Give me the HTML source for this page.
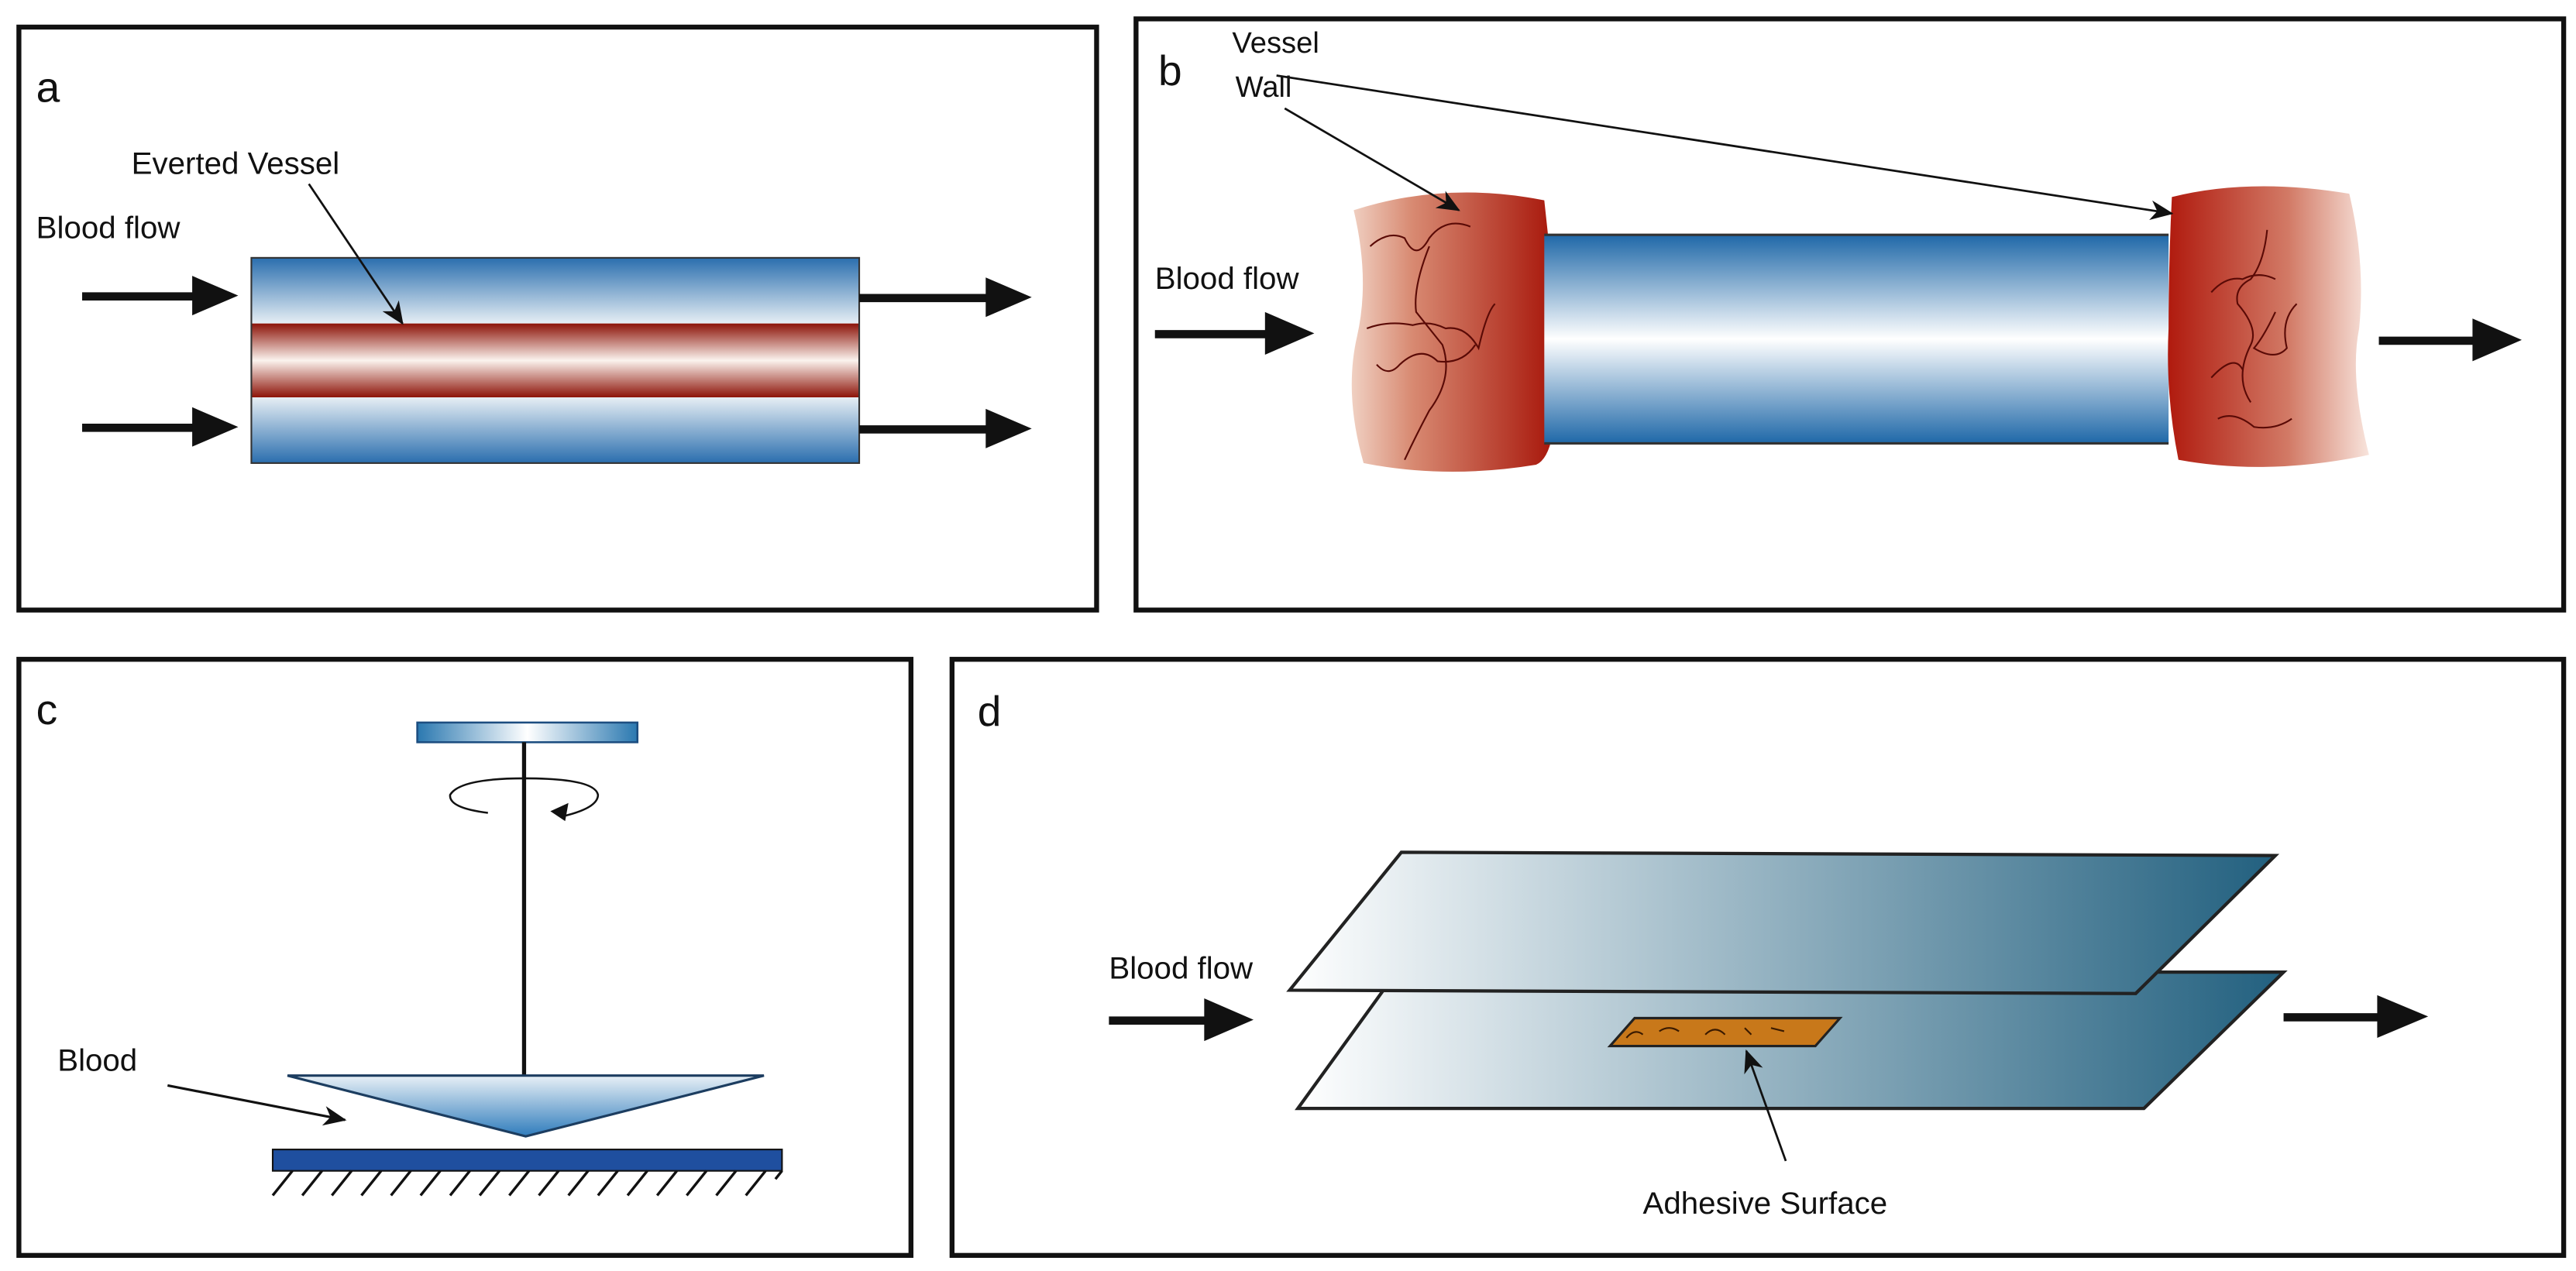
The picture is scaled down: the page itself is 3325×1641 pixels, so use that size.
<!DOCTYPE html>
<html><head><meta charset="utf-8"><style>
html,body{margin:0;padding:0;background:#fff}
svg{display:block}
text{font-family:"Liberation Sans Narrow","Liberation Sans",sans-serif;fill:#111}
</style></head><body>
<svg width="3325" height="1641" viewBox="0 0 1568 774" preserveAspectRatio="none" xmlns="http://www.w3.org/2000/svg">
<defs>
<linearGradient id="bt" x1="0" y1="0" x2="0" y2="1"><stop offset="0" stop-color="#2a6eae"/><stop offset="1" stop-color="#e6eef4"/></linearGradient>
<linearGradient id="bb" x1="0" y1="0" x2="0" y2="1"><stop offset="0" stop-color="#e6eef4"/><stop offset="1" stop-color="#2a6eae"/></linearGradient>
<linearGradient id="rd" x1="0" y1="0" x2="0" y2="1"><stop offset="0" stop-color="#8c1308"/><stop offset="0.5" stop-color="#fbf3ee"/><stop offset="1" stop-color="#8c1308"/></linearGradient>
<linearGradient id="tube" x1="0" y1="0" x2="0" y2="1"><stop offset="0" stop-color="#1f68a8"/><stop offset="0.5" stop-color="#ffffff"/><stop offset="1" stop-color="#1f68a8"/></linearGradient>
<linearGradient id="cl" x1="0" y1="0" x2="1" y2="0"><stop offset="0" stop-color="#f0d0c2"/><stop offset="0.3" stop-color="#d88a72"/><stop offset="1" stop-color="#a8180c"/></linearGradient>
<linearGradient id="cr" x1="0" y1="0" x2="1" y2="0"><stop offset="0" stop-color="#b01a0e"/><stop offset="0.6" stop-color="#d27a66"/><stop offset="1" stop-color="#f8e4dc"/></linearGradient>
<linearGradient id="bar" x1="0" y1="0" x2="1" y2="0"><stop offset="0" stop-color="#2a78b0"/><stop offset="0.5" stop-color="#ffffff"/><stop offset="1" stop-color="#2a78b0"/></linearGradient>
<linearGradient id="tri" x1="0" y1="0" x2="0" y2="1"><stop offset="0" stop-color="#e8f0f6"/><stop offset="1" stop-color="#2f7cbc"/></linearGradient>
<linearGradient id="pl" x1="0" y1="0" x2="1" y2="0"><stop offset="0" stop-color="#ffffff"/><stop offset="1" stop-color="#22607f"/></linearGradient>
<marker id="ah" markerWidth="14" markerHeight="12" refX="13" refY="6" orient="auto" markerUnits="userSpaceOnUse"><path d="M0,0 L14,6 L0,12 L4,6 Z" fill="#111"/></marker>
</defs>

<!-- Panel a -->
<rect x="11.5" y="16.5" width="656" height="355" fill="none" stroke="#111" stroke-width="3"/>
<text x="22" y="62" font-size="26">a</text>
<text x="80" y="106" font-size="19">Everted Vessel</text>
<text x="22" y="145" font-size="19">Blood flow</text>
<rect x="153" y="157" width="370" height="40" fill="url(#bt)"/>
<rect x="153" y="197" width="370" height="45" fill="url(#rd)"/>
<rect x="153" y="242" width="370" height="40" fill="url(#bb)"/>
<rect x="153" y="157" width="370" height="125" fill="none" stroke="#333" stroke-width="1"/>
<line x1="188" y1="112" x2="245" y2="197" stroke="#111" stroke-width="1.3" marker-end="url(#ah)"/>
<g fill="#111">
<rect x="50" y="178" width="70" height="5"/><polygon points="117,168 145,180 117,192"/>
<rect x="50" y="258" width="70" height="5"/><polygon points="117,248 145,260 117,272"/>
<rect x="523" y="179" width="80" height="5"/><polygon points="600,169 628,181 600,193"/>
<rect x="523" y="259" width="80" height="5"/><polygon points="600,249 628,261 600,273"/>
</g>

<!-- Panel b -->
<rect x="691.5" y="11.5" width="869" height="360" fill="none" stroke="#111" stroke-width="3"/>
<text x="705" y="52" font-size="26">b</text>
<text x="750" y="32" font-size="18">Vessel</text>
<text x="752" y="59" font-size="18">Wall</text>
<path d="M824,128 Q880,110 940,122 L943,150 L945,265 Q942,280 935,283 Q880,292 830,282 Q818,240 826,205 Q834,170 824,128 Z" fill="url(#cl)"/>
<rect x="940" y="143" width="380" height="127" fill="url(#tube)"/>
<line x1="940" y1="143" x2="1320" y2="143" stroke="#333" stroke-width="1.5"/>
<line x1="940" y1="270" x2="1320" y2="270" stroke="#333" stroke-width="1.5"/>
<path d="M1322,120 Q1370,108 1430,118 Q1440,160 1436,200 Q1430,230 1442,277 Q1380,290 1326,280 Q1318,240 1320,200 Q1320,160 1322,120 Z" fill="url(#cr)"/>
<g fill="none" stroke="#5a0a06" stroke-width="1">
<path d="M834,150 Q845,140 855,145 Q862,160 870,145 Q880,132 895,138"/>
<path d="M870,150 Q860,175 862,190 Q870,200 878,210 Q885,230 870,250 Q862,265 855,280"/>
<path d="M832,200 Q845,195 860,198 Q870,195 880,200 Q892,198 900,212 Q905,190 910,185"/>
<path d="M838,222 Q845,230 852,222 Q865,210 875,220 Q890,222 898,210"/>
<path d="M1380,140 Q1378,160 1370,170 Q1360,175 1362,185 Q1375,200 1370,210 Q1360,230 1370,245"/>
<path d="M1346,178 Q1355,168 1365,170 Q1375,165 1385,170"/>
<path d="M1385,190 Q1378,205 1372,212 Q1385,220 1392,212 Q1388,195 1398,185"/>
<path d="M1350,255 Q1360,250 1372,260 Q1385,262 1395,255"/>
<path d="M1346,230 Q1360,215 1365,225"/>
</g>
<line x1="782" y1="66" x2="888" y2="128" stroke="#111" stroke-width="1.3" marker-end="url(#ah)"/>
<line x1="777" y1="46" x2="1322" y2="130" stroke="#111" stroke-width="1.3" marker-end="url(#ah)"/>
<text x="703" y="176" font-size="19">Blood flow</text>
<g fill="#111">
<rect x="703" y="201" width="70" height="5"/><polygon points="770,190 800,203 770,216"/>
<rect x="1448" y="205" width="60" height="5"/><polygon points="1505,194 1535,207 1505,220"/>
</g>

<!-- Panel c -->
<rect x="11.5" y="401.5" width="543" height="363" fill="none" stroke="#111" stroke-width="3"/>
<text x="22" y="441" font-size="26">c</text>
<rect x="254" y="440" width="134" height="12" fill="url(#bar)" stroke="#1c4d80" stroke-width="1.2"/>
<line x1="319" y1="452" x2="319" y2="655" stroke="#111" stroke-width="2.5"/>
<path d="M297,495 Q273,492 274,484 Q280,474 319,474 Q362,474 364,484 Q364,492 343,497" fill="none" stroke="#111" stroke-width="1.2"/>
<polygon points="335,494 346,489 344,500" fill="#111"/>
<polygon points="175,655 465,655 320,692" fill="url(#tri)" stroke="#1c3d60" stroke-width="1.5"/>
<rect x="166" y="700" width="310" height="13" fill="#1f4f9f" stroke="#111" stroke-width="1"/>
<g stroke="#111" stroke-width="1.6">
<line x1="178" y1="713" x2="166" y2="728"/><line x1="196" y1="713" x2="184" y2="728"/><line x1="214" y1="713" x2="202" y2="728"/><line x1="232" y1="713" x2="220" y2="728"/><line x1="250" y1="713" x2="238" y2="728"/><line x1="268" y1="713" x2="256" y2="728"/><line x1="286" y1="713" x2="274" y2="728"/><line x1="304" y1="713" x2="292" y2="728"/><line x1="322" y1="713" x2="310" y2="728"/><line x1="340" y1="713" x2="328" y2="728"/><line x1="358" y1="713" x2="346" y2="728"/><line x1="376" y1="713" x2="364" y2="728"/><line x1="394" y1="713" x2="382" y2="728"/><line x1="412" y1="713" x2="400" y2="728"/><line x1="430" y1="713" x2="418" y2="728"/><line x1="448" y1="713" x2="436" y2="728"/><line x1="466" y1="713" x2="454" y2="728"/><line x1="476" y1="713" x2="472" y2="718"/>
</g>
<text x="35" y="652" font-size="19">Blood</text>
<line x1="102" y1="661" x2="210" y2="682" stroke="#111" stroke-width="1.5" marker-end="url(#ah)"/>

<!-- Panel d -->
<rect x="579.5" y="401.5" width="981" height="363" fill="none" stroke="#111" stroke-width="3"/>
<text x="595" y="442" font-size="26">d</text>
<polygon points="790,675 850,592 1390,592 1305,675" fill="url(#pl)" stroke="#222" stroke-width="2"/>
<polygon points="785,603 853,519 1385,521 1300,605" fill="url(#pl)" stroke="#222" stroke-width="2"/>
<polygon points="980,637 995,620 1120,620 1105,637" fill="#c8781a" stroke="#222" stroke-width="1.5"/>
<g fill="none" stroke="#3a1a00" stroke-width="1"><path d="M990,632 Q995,626 1000,630"/><path d="M1010,628 Q1016,624 1022,628"/><path d="M1038,630 Q1044,624 1050,630"/><path d="M1062,626 L1066,630"/><path d="M1078,626 L1086,628"/></g>
<line x1="1087" y1="707" x2="1063" y2="640" stroke="#111" stroke-width="1.3" marker-end="url(#ah)"/>
<text x="1000" y="739" font-size="19">Adhesive Surface</text>
<text x="675" y="596" font-size="19">Blood flow</text>
<g fill="#111">
<rect x="675" y="619" width="62" height="5"/><polygon points="733,608 763,621 733,634"/>
<rect x="1390" y="617" width="60" height="5"/><polygon points="1447,606 1478,619 1447,632"/>
</g>
</svg>
</body></html>
